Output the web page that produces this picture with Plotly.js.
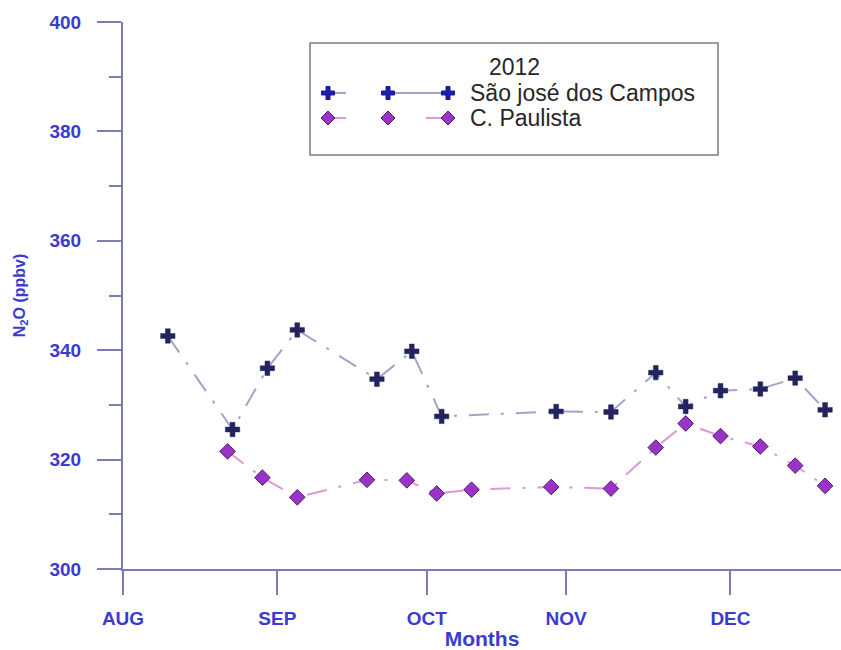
<!DOCTYPE html>
<html>
<head>
<meta charset="utf-8">
<script src="https://cdn.plot.ly/plotly-3.0.1.min.js"></script>
<style>
  html, body { margin: 0; padding: 0; background: #ffffff; }
  #chart { width: 841px; height: 650px; }
</style>
</head>
<body>
<div id="chart"></div>
<script>
// Month ticks (days counted from 1 August 2012)
const monthLabels = ['AUG', 'SEP', 'OCT', 'NOV', 'DEC'];
const monthTickDays = [0, 31, 61, 89, 122];

// São José dos Campos samples
const sjcDays = [9, 22, 29, 35, 51, 58, 64, 87, 98, 107, 113, 120, 128, 135, 141];
const sjcN2O  = [342.6, 325.5, 336.7, 343.7, 334.7, 339.8, 327.9, 328.8, 328.7, 335.9, 329.7, 332.6, 332.9, 334.9, 329.1];

// Cachoeira Paulista samples
const cpDays = [21, 28, 35, 49, 57, 63, 70, 86, 98, 107, 113, 120, 128, 135, 141];
const cpN2O  = [321.5, 316.7, 313.1, 316.3, 316.2, 313.8, 314.5, 315.0, 314.7, 322.2, 326.6, 324.3, 322.4, 318.9, 315.2];

const seriesNames = ['São josé dos Campos', 'C. Paulista'];
const legendTitle = '2012';

const axisBlue = '#3b3bcf';
const axisLine = '#7b7bb8';
const font = 'Liberation Sans, Arial, sans-serif';
const dashPattern = '20px,12px,3px,12px';

const sjcLine = '#a3a3c9';
const sjcMarker = '#23235f';
const cpLine = '#d99ad9';
const cpFill = '#9a34c8';
const cpEdge = '#4f1a6e';

const traces = [
  {
    x: sjcDays, y: sjcN2O, name: seriesNames[0],
    type: 'scatter', mode: 'lines+markers',
    line: { color: sjcLine, width: 2, dash: dashPattern },
    marker: { symbol: 'cross', size: 12, color: sjcMarker, line: { color: sjcMarker, width: 0.5 } },
    showlegend: false
  },
  {
    x: cpDays, y: cpN2O, name: seriesNames[1],
    type: 'scatter', mode: 'lines+markers',
    line: { color: cpLine, width: 2, dash: dashPattern },
    marker: { symbol: 'diamond', size: 12, color: cpFill, line: { color: cpEdge, width: 1 } },
    showlegend: false
  }
];

// Plot-area geometry in pixels, used to place the legend box
const M = { l: 123, r: 0, t: 22, b: 81 };
const W = 841, H = 650;
const plotW = W - M.l - M.r, plotH = H - M.t - M.b;
const px = (x) => (x - M.l) / plotW;
const py = (y) => (H - M.b - y) / plotH;

const crossPath = 'M-6.5,-2 H-2 V-6.5 H2 V-2 H6.5 V2 H2 V6.5 H-2 V2 H-6.5 Z';
const diamondPath = 'M0,7 L7,0 L0,-7 L-7,0 Z';

function glyph(path, x, y, fill, edge) {
  return {
    type: 'path', xref: 'paper', yref: 'paper',
    xsizemode: 'pixel', ysizemode: 'pixel',
    xanchor: px(x), yanchor: py(y),
    path: path, fillcolor: fill,
    line: { color: edge, width: 1 }
  };
}

function seg(x0, x1, y, color) {
  return { type: 'line', xref: 'paper', yref: 'paper',
    x0: px(x0), x1: px(x1), y0: py(y), y1: py(y),
    line: { color: color, width: 2 } };
}

const legendX = [328, 388, 448];
const shapes = [
  { type: 'rect', xref: 'paper', yref: 'paper',
    x0: px(310), x1: px(718), y0: py(155), y1: py(43),
    fillcolor: '#ffffff', line: { color: '#7f7f7f', width: 1.5 } },
  seg(330, 346, 93, sjcLine), seg(390, 446, 93, sjcLine),
  seg(330, 346, 118, cpLine), seg(426, 446, 118, cpLine)
];
legendX.forEach(x => shapes.push(glyph(crossPath, x, 93, '#1c1cb0', '#1c1c8a')));
legendX.forEach(x => shapes.push(glyph(diamondPath, x, 118, cpFill, cpEdge)));

const legendFont = { family: font, size: 23, color: '#262626' };
const annotations = [
  { xref: 'paper', yref: 'paper', x: px(514), y: py(67), text: legendTitle,
    showarrow: false, xanchor: 'center', yanchor: 'middle', font: legendFont },
  { xref: 'paper', yref: 'paper', x: px(468), y: py(93), text: seriesNames[0],
    showarrow: false, xanchor: 'left', yanchor: 'middle', font: legendFont },
  { xref: 'paper', yref: 'paper', x: px(468), y: py(118), text: seriesNames[1],
    showarrow: false, xanchor: 'left', yanchor: 'middle', font: legendFont }
];

const layout = {
  width: W, height: H,
  margin: M,
  paper_bgcolor: '#ffffff', plot_bgcolor: '#ffffff',
  showlegend: false,
  xaxis: {
    range: [0, 144.2],
    tickvals: monthTickDays, ticktext: monthLabels,
    showline: true, linecolor: axisLine, linewidth: 2,
    ticks: 'outside', ticklen: 24, tickwidth: 2, tickcolor: axisLine,
    ticklabelstandoff: 7,
    tickfont: { family: font, size: 19, color: axisBlue, weight: 700 },
    showgrid: false, zeroline: false,
    title: { text: 'Months', font: { family: font, size: 21, color: axisBlue, weight: 700 }, standoff: 0 }
  },
  yaxis: {
    range: [300, 400], dtick: 20,
    showline: true, linecolor: axisLine, linewidth: 2,
    ticks: 'outside', ticklen: 24, tickwidth: 2, tickcolor: axisLine,
    minor: { dtick: 10, ticks: 'outside', ticklen: 12, tickwidth: 2, tickcolor: axisLine },
    ticklabelstandoff: 12,
    tickfont: { family: font, size: 19, color: axisBlue, weight: 700 },
    showgrid: false, zeroline: false,
    title: { text: 'N<sub>2</sub>O (ppbv)', font: { family: font, size: 16, color: axisBlue, weight: 700 }, standoff: 20 }
  },
  shapes: shapes,
  annotations: annotations
};

Plotly.newPlot('chart', traces, layout, { displayModeBar: false, staticPlot: true });
</script>
</body>
</html>
